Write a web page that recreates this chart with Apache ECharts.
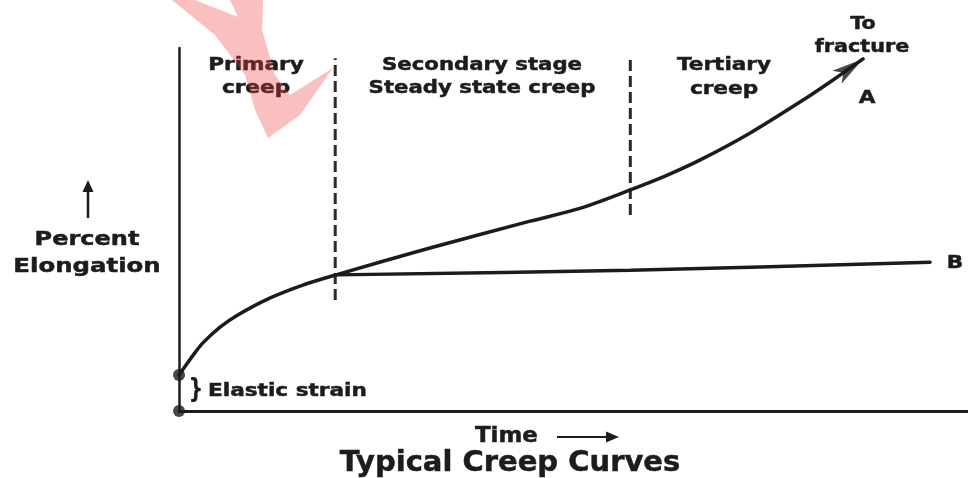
<!DOCTYPE html>
<html>
<head>
<meta charset="utf-8">
<script src="https://cdn.jsdelivr.net/npm/echarts@6/dist/echarts.min.js"></script>
<style>
html,body{margin:0;padding:0;background:#fff;}
#chart{width:968px;height:478px;}
</style>
</head>
<body>
<div id="chart"></div>
<script>
// ---- data (time units 0-100, percent elongation units 0-100) ----
const primaryTime   = [0, 0.9, 1.8, 3.0, 5.2, 7.4, 11.5, 15.7, 19.9];
const primaryElong  = [9.9, 12.7, 15.4, 18.7, 23.1, 26.4, 31.1, 34.7, 37.5];
const curveATime    = [31.8, 44.5, 50.8, 57.2, 61.6, 66.0, 72.4, 78.7, 82.9, 86.7];
const curveAElong   = [44.9, 52.3, 55.8, 60.9, 64.7, 69.1, 76.6, 85.1, 91.2, 97.0];
const curveBTime    = [19.9, 57.2, 95.2];
const curveBElong   = [37.5, 38.8, 41.0];
const stageBoundaryTime  = [19.8, 57.2];
const stageBoundaryLow   = [30.6, 54.0];
const stageBoundaryHigh  = [97.2, 98.1];
const elasticPointTime   = [0, 0];
const elasticPointElong  = [0, 9.9];
const stageNames = [['Primary', 'creep'], ['Secondary stage', 'Steady state creep'], ['Tertiary', 'creep']];
const curveNames = ['A', 'B'];
const yAxisTitle = ['Percent', 'Elongation'];
const xAxisTitle = 'Time';
const chartTitle = 'Typical Creep Curves';
const fractureNote = ['To', 'fracture'];
const elasticNote = 'Elastic strain';

const ink = '#1c1c1c';
const zip = (xs, ys) => xs.map((x, i) => [x, ys[i]]);
const seriesA = zip(primaryTime, primaryElong).concat(zip(curveATime, curveAElong));
const seriesB = zip(curveBTime, curveBElong);

const chart = echarts.init(document.getElementById('chart'), null, {renderer: 'canvas'});

function txt(text, x, y, size, sx, align) {
  return {
    type: 'text', x: x, y: y, scaleX: sx || 1, z: 50,
    style: {
      text: text, x: 0, y: 0, fill: ink, stroke: ink, lineWidth: 0.5,
      font: 'bold ' + size + 'px "DejaVu Sans", sans-serif',
      fontFamily: 'DejaVu Sans', fontWeight: 'bold', fontSize: size,
      align: align || 'center', verticalAlign: 'middle',
      textAlign: align || 'center', textVerticalAlign: 'middle'
    }
  };
}

const boundarySeries = stageBoundaryTime.map((t, i) => ({
  type: 'line', data: [[t, stageBoundaryLow[i]], [t, stageBoundaryHigh[i]]],
  symbol: 'none', silent: true, z: 1,
  lineStyle: {color: '#2a2a2a', width: 3, type: [11, 5]}
}));

// arrow direction of last segment of curve A (screen space approx)
const n = curveATime.length;
const dxPx = (curveATime[n-1] - curveATime[n-2]) * 7.89;
const dyPx = (curveAElong[n-1] - curveAElong[n-2]) * 3.63;
const ang = Math.atan2(dyPx, dxPx);
const arrowRot = -(90 - ang * 180 / Math.PI);

chart.setOption({
  animation: false,
  backgroundColor: '#ffffff',
  grid: {left: 179, right: 0, top: 48, bottom: 67, containLabel: false},
  xAxis: {
    type: 'value', min: 0, max: 100,
    axisLine: {show: true, onZero: false, lineStyle: {color: ink, width: 3}},
    axisTick: {show: false}, axisLabel: {show: false}, splitLine: {show: false}
  },
  yAxis: {
    type: 'value', min: 0, max: 100,
    axisLine: {show: true, onZero: false, lineStyle: {color: ink, width: 2.5}},
    axisTick: {show: false}, axisLabel: {show: false}, splitLine: {show: false}
  },
  series: [
    ...boundarySeries,
    {
      name: curveNames[0], type: 'line', data: seriesA, smooth: 0.3,
      symbol: 'none', z: 3, clip: false,
      lineStyle: {color: ink, width: 3.5, cap: 'round'}
    },
    {
      name: curveNames[1], type: 'line', data: seriesB, smooth: 0.3,
      symbol: 'none', z: 3, clip: false,
      lineStyle: {color: ink, width: 3.5, cap: 'round'}
    },
    {
      type: 'scatter', data: [seriesA[seriesA.length - 1]], z: 4, clip: false,
      symbol: 'arrow', symbolSize: [12, 32], symbolRotate: arrowRot,
      itemStyle: {color: ink}
    },
    {
      type: 'scatter', data: zip(elasticPointTime, elasticPointElong), z: 5, clip: false,
      symbol: 'circle', symbolSize: 12, itemStyle: {color: ink}
    }
  ],
  graphic: [
    txt(stageNames[0][0], 256, 65, 18, 1.2),
    txt(stageNames[0][1], 256, 88, 18, 1.2),
    txt(stageNames[1][0], 482, 65, 18, 1.18),
    txt(stageNames[1][1], 482, 88, 18, 1.18),
    txt(stageNames[2][0], 724, 65, 18, 1.2),
    txt(stageNames[2][1], 724, 89, 18, 1.2),
    txt(fractureNote[0], 863, 24, 18, 1.15),
    txt(fractureNote[1], 862, 47, 18, 1.15),
    txt(curveNames[0], 867, 98, 18, 1.2),
    txt(curveNames[1], 955, 263, 18, 1.2),
    txt(yAxisTitle[0], 87, 240, 20, 1.2),
    txt(yAxisTitle[1], 87, 267, 20, 1.22),
    txt(elasticNote, 208, 391, 18, 1.2, 'left'),
    txt(xAxisTitle, 475, 437, 21, 1.09, 'left'),
    txt(chartTitle, 510, 463, 29, 1.0),
    {type: 'text', x: 196, y: 390, z: 50, scaleX: 0.8,
     style: {text: '}', x: 0, y: 0, fill: ink, font: 'bold 26px "DejaVu Sans", sans-serif',
             align: 'center', verticalAlign: 'middle', textAlign: 'center', textVerticalAlign: 'middle'}},
    {type: 'line', z: 50, shape: {x1: 88, y1: 218, x2: 88, y2: 188}, style: {stroke: ink, lineWidth: 2.5}},
    {type: 'polygon', z: 50, shape: {points: [[88, 180], [82.5, 192], [93.5, 192]]}, style: {fill: ink}},
    {type: 'line', z: 50, shape: {x1: 557, y1: 437, x2: 610, y2: 437}, style: {stroke: ink, lineWidth: 2.2}},
    {type: 'polygon', z: 50, shape: {points: [[619, 437], [606, 431.5], [606, 442.5]]}, style: {fill: ink}},
    {type: 'polygon', z: 100, silent: true,
     shape: {points: [[172, 0], [195, 0], [238, 17], [230, 0], [263, 0], [262, 30], [275, 75], [290, 95], [333, 68], [300, 115], [268, 138], [255, 110], [245, 75], [215, 35]]},
     style: {fill: 'rgba(240,60,60,0.33)'}}
  ]
});
</script>
</body>
</html>
